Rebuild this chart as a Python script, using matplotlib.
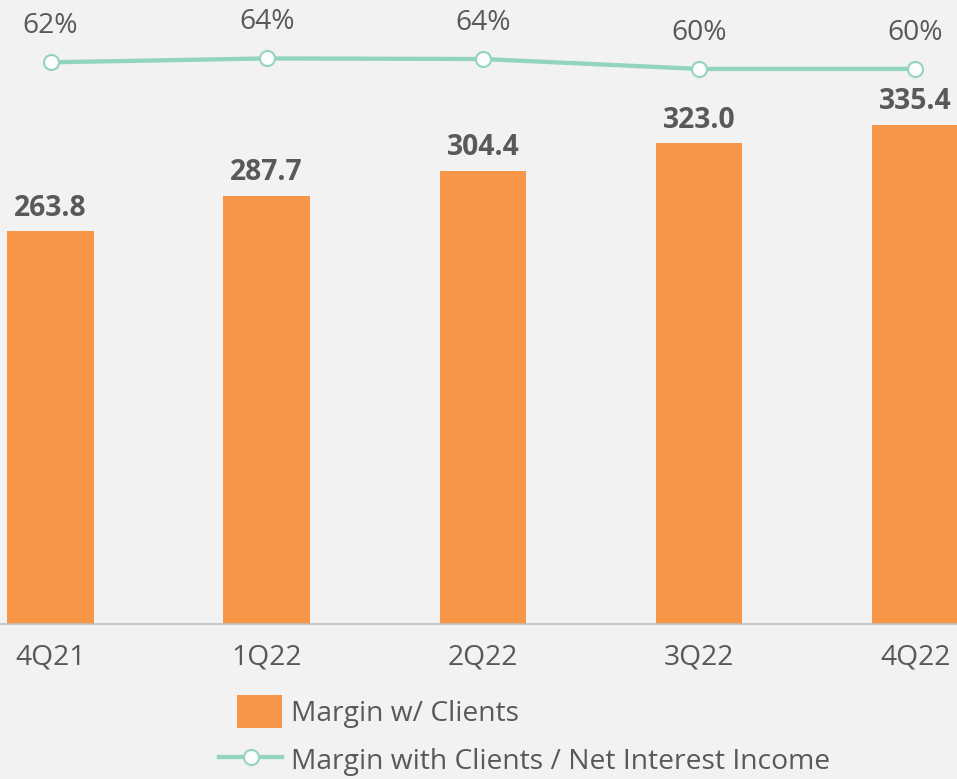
import matplotlib.pyplot as plt
from matplotlib.lines import Line2D
from matplotlib.patches import Patch, Rectangle
from matplotlib.legend_handler import HandlerPatch

plt.rcParams['font.family'] = ['Open Sans', 'DejaVu Sans']

# data
quarters = ['4Q21', '1Q22', '2Q22', '3Q22', '4Q22']
margin_clients = [263.8, 287.7, 304.4, 323.0, 335.4]
ratio_nii = [62.4, 63.7, 63.5, 60.2, 60.2]  # %

bar_color = '#f79646'
line_color = '#92d4bc'
text_color = '#595959'
bg = '#f2f2f2'

fig = plt.figure(figsize=(9.57, 7.79), dpi=100, facecolor=bg)
ax = fig.add_axes([0, 1 - 624 / 779, 1, 624 / 779])
ax.set_facecolor(bg)

x = list(range(len(quarters)))
bars = ax.bar(x, margin_clients, width=0.4, color=bar_color, zorder=2)
for xi, v in zip(x, margin_clients):
    ax.annotate(f'{v:.1f}', (xi, v), xytext=(0, 16.5), textcoords='offset points',
                ha='center', va='center', fontsize=20.3, fontweight='bold', color=text_color)

ax.set_xlim(-0.2336, 4.193)
ax.set_ylim(0, 419)
ax.set_xticks(x)
ax.set_xticklabels(quarters)
ax.tick_params(axis='x', length=0, pad=14, labelsize=20.3, labelcolor=text_color)
ax.set_yticks([])
for s in ['top', 'left', 'right']:
    ax.spines[s].set_visible(False)
ax.spines['bottom'].set_color('#bfbfbf')
ax.spines['bottom'].set_linewidth(1.2)

# ratio line on a secondary axis
ax2 = ax.twinx()
ax2.plot(x, ratio_nii, color=line_color, lw=3.1, marker='o', markersize=10.8,
         markerfacecolor='white', markeredgecolor=line_color, markeredgewidth=1.5,
         zorder=3, clip_on=False)
for xi, v in zip(x, ratio_nii):
    ax2.annotate(f'{v:.0f}%', (xi, v), xytext=(0, 26), textcoords='offset points',
                 ha='center', va='center', fontsize=20.3, color=text_color)
ax2.set_ylim(-124.8, 83.17)
ax2.set_yticks([])
for s in ['top', 'left', 'right', 'bottom']:
    ax2.spines[s].set_visible(False)


# legend: square swatch narrower than the line handle, right-aligned
def square_patch(legend, orig_handle, xdescent, ydescent, width, height, fontsize):
    side = width * 0.71
    return Rectangle((width - side - xdescent, -ydescent - 2), side, height + 4)


handles = [
    Patch(facecolor=bar_color, label='Margin w/ Clients'),
    Line2D([0], [0], color=line_color, lw=3.1, marker='o', markersize=10.8,
           markerfacecolor='white', markeredgecolor=line_color, markeredgewidth=1.5,
           label='Margin with Clients / Net Interest Income'),
]
leg = fig.legend(handles=handles, loc='upper left', bbox_to_anchor=(219 / 957, 1 - 698 / 779),
                 frameon=False, fontsize=20.3, labelcolor=text_color, handlelength=2.25,
                 handleheight=1.1, handletextpad=0.3, labelspacing=0.62, borderpad=0,
                 borderaxespad=0, numpoints=1,
                 handler_map={Patch: HandlerPatch(patch_func=square_patch)})

fig.savefig('out.png', dpi=100, facecolor=bg)
